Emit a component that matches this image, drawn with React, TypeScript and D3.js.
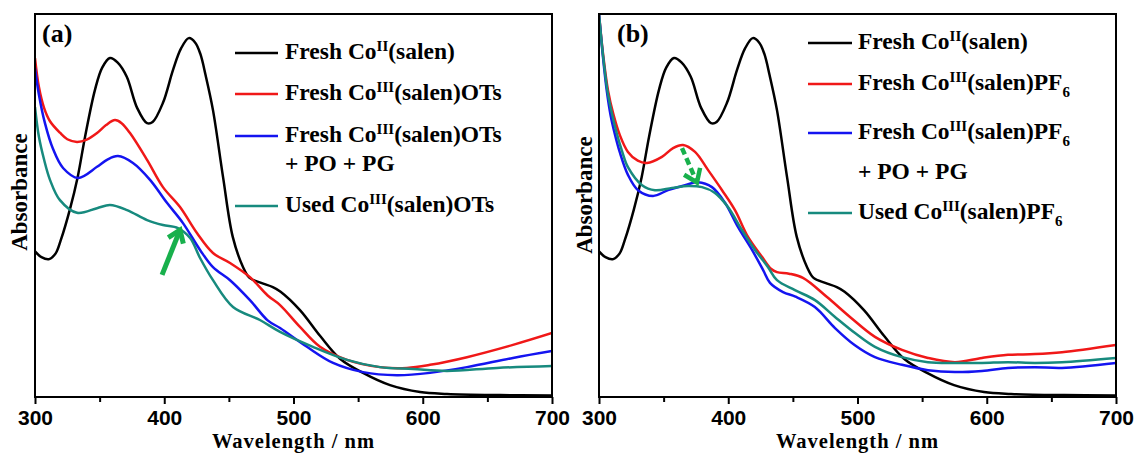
import React, { useEffect, useRef } from "react";
import * as d3 from "d3";

type Pt = [number, number];

// x axis
const wavelengthTicks = [300, 350, 400, 450, 500, 550, 600, 650, 700];
const labelledTicks = [300, 400, 500, 600, 700];

// spectra (wavelength nm, absorbance a.u.)
const freshCoII: Pt[] = [
  [300, 0.38], [305, 0.365], [311, 0.36], [316, 0.375], [320, 0.41], [327, 0.49], [333, 0.574],
  [338.7, 0.679], [346.4, 0.802], [352, 0.86], [358, 0.885], [364, 0.873], [371, 0.836], [379, 0.755],
  [386.7, 0.715], [391, 0.718], [399, 0.768], [406.8, 0.854], [413, 0.91], [419, 0.937], [424, 0.925],
  [428, 0.895], [432, 0.84], [437.7, 0.749], [445.5, 0.574], [453, 0.418], [461, 0.339], [466, 0.311],
  [475, 0.298], [484, 0.287], [490, 0.275], [505, 0.227], [520.5, 0.16], [536, 0.1], [553.8, 0.063],
  [574.7, 0.031], [597.9, 0.013], [618.8, 0.008], [659.8, 0.005], [700, 0.004],
];

const freshOTs: Pt[] = [
  [300, 0.885], [303, 0.81], [307, 0.755], [311.6, 0.72], [319.3, 0.69], [325, 0.673],
  [332.5, 0.666], [340, 0.672], [348, 0.689], [355, 0.71], [361.9, 0.723], [367, 0.715], [373.5, 0.689],
  [386.7, 0.619], [399, 0.548], [412.2, 0.496], [425.3, 0.428], [437.7, 0.376], [450.9, 0.35],
  [466.3, 0.313], [480, 0.265], [489.6, 0.24], [505, 0.183], [520.5, 0.131], [541.4, 0.097],
  [566.9, 0.078], [587.8, 0.076], [605.6, 0.084], [634.2, 0.104], [669.8, 0.136], [700, 0.167],
];

const freshOTsPOPG: Pt[] = [
  [300, 0.859], [303, 0.79], [307.7, 0.715], [313.9, 0.648], [321.7, 0.598], [333.3, 0.572],
  [348, 0.601], [356, 0.62], [364.2, 0.629], [375.8, 0.611], [389, 0.567], [402.1, 0.507],
  [414.5, 0.454], [427.7, 0.384], [437.7, 0.339], [450.9, 0.305], [466.3, 0.253], [480, 0.2],
  [489.6, 0.18], [510.4, 0.131], [530.6, 0.089], [553.8, 0.065], [580, 0.057], [605.6, 0.063],
  [634.2, 0.078], [669.8, 0.102], [700, 0.12],
];

const usedOTs: Pt[] = [
  [300, 0.757], [303, 0.68], [307, 0.62], [311.6, 0.567], [319.3, 0.514], [332.5, 0.481],
  [348, 0.493], [358, 0.501], [371.2, 0.488], [386.7, 0.462], [399, 0.449], [410.6, 0.441],
  [420, 0.415], [427.7, 0.363], [437.7, 0.305], [453.2, 0.235], [474, 0.201], [489.6, 0.17],
  [515, 0.131], [541.4, 0.097], [566.9, 0.078], [592.5, 0.073], [618.8, 0.068], [657.4, 0.076],
  [700, 0.081],
];

const freshPF6: Pt[] = [
  [300, 1.0], [303, 0.9], [307, 0.8], [311, 0.74], [316, 0.685], [322.4, 0.64], [330, 0.617],
  [337.1, 0.611], [348.7, 0.627], [357.3, 0.65], [365, 0.658], [374.3, 0.64], [384.3, 0.593],
  [395.2, 0.54], [405.2, 0.488], [415.3, 0.418], [426.1, 0.366], [433, 0.335], [437.7, 0.326],
  [447, 0.322], [457.8, 0.311], [476.4, 0.261], [494.2, 0.209], [513.5, 0.157], [534.4, 0.123],
  [554.5, 0.102], [575.4, 0.091], [596.3, 0.102], [616.4, 0.11], [637.3, 0.112], [658.2, 0.117],
  [700, 0.136],
];

const freshPF6POPG: Pt[] = [
  [300, 1.0], [303, 0.89], [306, 0.8], [309, 0.735], [312, 0.69], [316, 0.64], [322.4, 0.58],
  [330.2, 0.54], [341.8, 0.525], [353.4, 0.54], [366.5, 0.553], [376.6, 0.561], [387.4, 0.548],
  [397.5, 0.507], [407.5, 0.444], [418.4, 0.384], [426.9, 0.332], [432.3, 0.298], [442.4, 0.274],
  [452, 0.262], [467, 0.235], [482.6, 0.18], [498, 0.135], [513.5, 0.104], [534.4, 0.084],
  [554.5, 0.07], [575.4, 0.065], [596.3, 0.068], [616.4, 0.076], [637.3, 0.078], [658.2, 0.076],
  [700, 0.089],
];

const usedPF6: Pt[] = [
  [300, 1.0], [303, 0.895], [306.5, 0.8], [310, 0.74], [314, 0.685], [318, 0.64], [322.4, 0.6],
  [333.3, 0.553], [343.3, 0.54], [356.5, 0.546], [368.9, 0.551], [379.7, 0.548], [389.7, 0.533],
  [399.8, 0.496], [410.6, 0.436], [420.7, 0.384], [430.8, 0.339], [437.7, 0.305], [451.6, 0.279],
  [467.1, 0.253], [482.6, 0.209], [498.1, 0.167], [513.5, 0.131], [534.4, 0.104], [554.5, 0.091],
  [575.4, 0.089], [596.3, 0.089], [616.4, 0.091], [637.3, 0.089], [658.2, 0.091], [700, 0.102],
];

// green arrows (tail, tip)
const arrowA: Pt[] = [[398.3, 0.319], [412.2, 0.436]];
const arrowB: Pt[] = [[364.2, 0.65], [375.8, 0.56]];

type Part = { t: string; sup?: boolean; sub?: boolean };

const legendA: { color: string | null; parts: Part[] }[] = [
  { color: "#000000", parts: [{ t: "Fresh Co" }, { t: "II", sup: true }, { t: "(salen)" }] },
  { color: "#f01818", parts: [{ t: "Fresh Co" }, { t: "III", sup: true }, { t: "(salen)OTs" }] },
  { color: "#1414f0", parts: [{ t: "Fresh Co" }, { t: "III", sup: true }, { t: "(salen)OTs" }] },
  { color: null, parts: [{ t: "+ PO + PG" }] },
  { color: "#178a7e", parts: [{ t: "Used Co" }, { t: "III", sup: true }, { t: "(salen)OTs" }] },
];

const legendB: { color: string | null; parts: Part[] }[] = [
  { color: "#000000", parts: [{ t: "Fresh Co" }, { t: "II", sup: true }, { t: "(salen)" }] },
  { color: "#f01818", parts: [{ t: "Fresh Co" }, { t: "III", sup: true }, { t: "(salen)PF" }, { t: "6", sub: true }] },
  { color: "#1414f0", parts: [{ t: "Fresh Co" }, { t: "III", sup: true }, { t: "(salen)PF" }, { t: "6", sub: true }] },
  { color: null, parts: [{ t: "+ PO + PG" }] },
  { color: "#178a7e", parts: [{ t: "Used Co" }, { t: "III", sup: true }, { t: "(salen)PF" }, { t: "6", sub: true }] },
];

const SERIF = "'Liberation Serif', 'Times New Roman', serif";
const SANS = "'Liberation Sans', Arial, sans-serif";
const GREEN = "#18b04c";

const panels = [
  {
    id: "a", left: 35, right: 552, top: 14, bottom: 397, tag: "(a)", tagX: 42, tagY: 42,
    yLabelX: 27, yLabelY: 192,
    series: [freshCoII, freshOTs, freshOTsPOPG, usedOTs], legend: legendA,
    legendX: [235, 278, 285], legendY: [59, 100, 142, 171, 212],
    arrow: arrowA, dashed: false,
  },
  {
    id: "b", left: 599, right: 1116, top: 14, bottom: 397, tag: "(b)", tagX: 617, tagY: 42,
    yLabelX: 592, yLabelY: 195,
    series: [freshCoII, freshPF6, freshPF6POPG, usedPF6], legend: legendB,
    legendX: [808, 852, 858], legendY: [49, 90, 139, 179, 219],
    arrow: arrowB, dashed: true,
  },
];

const Panel = ({ cfg }: { cfg: any }) => {
  const ref = useRef<SVGGElement>(null);

  useEffect(() => {
    const g = d3.select(ref.current);
    g.selectAll("*").remove();

    const x = d3.scaleLinear().domain([300, 700]).range([cfg.left, cfg.right]);
    const y = d3.scaleLinear().domain([0, 1]).range([cfg.bottom, cfg.top]);

    const clipId = "clip-" + cfg.id;
    g.append("clipPath").attr("id", clipId).append("rect")
      .attr("x", cfg.left).attr("y", cfg.top)
      .attr("width", cfg.right - cfg.left).attr("height", cfg.bottom - cfg.top);

    const line = d3.line<Pt>()
      .x(d => x(d[0]))
      .y(d => y(d[1]))
      .curve(d3.curveCatmullRom.alpha(0.5));

    const colors = cfg.legend.filter((r: any) => r.color).map((r: any) => r.color);
    cfg.series.forEach((data: Pt[], i: number) => {
      g.append("path")
        .datum(data)
        .attr("clip-path", `url(#${clipId})`)
        .attr("fill", "none")
        .attr("stroke", colors[i])
        .attr("stroke-width", 2.5)
        .attr("d", line);
    });

    // bottom axis
    const axis = g.append("g")
      .attr("transform", `translate(0,${cfg.bottom})`)
      .call(d3.axisBottom(x)
        .tickValues(wavelengthTicks)
        .tickSize(7)
        .tickFormat(d => (labelledTicks.includes(+d) ? String(d) : "")));
    axis.select(".domain").remove();
    axis.attr("font-family", null).attr("font-size", null);
    axis.selectAll<SVGLineElement, number>(".tick line")
      .attr("stroke", "#000")
      .attr("stroke-width", 2)
      .attr("y2", d => (labelledTicks.includes(d) ? 7 : 5));
    axis.selectAll(".tick text")
      .attr("y", 28)
      .attr("dy", null)
      .attr("fill", "#000")
      .attr("font-family", SANS)
      .attr("font-size", 21)
      .attr("font-weight", "bold");

    // frame
    g.append("rect")
      .attr("x", cfg.left).attr("y", cfg.top)
      .attr("width", cfg.right - cfg.left).attr("height", cfg.bottom - cfg.top)
      .attr("fill", "none").attr("stroke", "#000").attr("stroke-width", 2);

    // axis titles
    g.append("text")
      .attr("x", (cfg.left + cfg.right) / 2).attr("y", 448)
      .attr("text-anchor", "middle")
      .attr("font-family", SERIF).attr("font-size", 20.5).attr("font-weight", "bold")
      .attr("letter-spacing", 1)
      .text("Wavelength / nm");
    g.append("text")
      .attr("transform", `translate(${cfg.yLabelX},${cfg.yLabelY}) rotate(-90)`)
      .attr("text-anchor", "middle")
      .attr("font-family", SERIF).attr("font-size", 23).attr("font-weight", "bold")
      .text("Absorbance");

    g.append("text")
      .attr("x", cfg.tagX).attr("y", cfg.tagY)
      .attr("font-family", SERIF).attr("font-size", 26).attr("font-weight", "bold")
      .text(cfg.tag);

    // legend
    const [lx1, lx2, tx] = cfg.legendX;
    cfg.legend.forEach((row: any, i: number) => {
      const by = cfg.legendY[i];
      if (row.color) {
        g.append("line")
          .attr("x1", lx1).attr("x2", lx2).attr("y1", by - 6).attr("y2", by - 6)
          .attr("stroke", row.color).attr("stroke-width", 2.5);
      }
      const t = g.append("text")
        .attr("x", tx).attr("y", by)
        .attr("font-family", SERIF).attr("font-size", 23.5).attr("font-weight", "bold");
      let shift = 0;
      row.parts.forEach((p: Part) => {
        const target = p.sup ? -8 : p.sub ? 7 : 0;
        t.append("tspan")
          .attr("dy", target - shift)
          .attr("font-size", p.sup || p.sub ? 15 : null)
          .text(p.t);
        shift = target;
      });
    });

    // green arrow
    const [p0, p1] = cfg.arrow.map((d: Pt) => [x(d[0]), y(d[1])]);
    const ang = Math.atan2(p1[1] - p0[1], p1[0] - p0[0]);
    const wing = cfg.dashed ? 15 : 14, spread = 0.62;
    const w1 = [p1[0] - wing * Math.cos(ang - spread), p1[1] - wing * Math.sin(ang - spread)];
    const w2 = [p1[0] - wing * Math.cos(ang + spread), p1[1] - wing * Math.sin(ang + spread)];
    g.append("line")
      .attr("x1", p0[0]).attr("y1", p0[1])
      .attr("x2", p1[0] - 3 * Math.cos(ang)).attr("y2", p1[1] - 3 * Math.sin(ang))
      .attr("stroke", GREEN).attr("stroke-width", cfg.dashed ? 4.5 : 5)
      .attr("stroke-dasharray", cfg.dashed ? "7,4" : null);
    g.append("path")
      .attr("d", `M${w1[0]},${w1[1]}L${p1[0]},${p1[1]}L${w2[0]},${w2[1]}`)
      .attr("fill", "none").attr("stroke", GREEN).attr("stroke-width", cfg.dashed ? 4.5 : 5)
      .attr("stroke-linejoin", "miter");
  }, [cfg]);

  return <g ref={ref} />;
};

export default function App() {
  return (
    <svg width={1137} height={453} style={{ position: "absolute", left: 0, top: 0, background: "#fff" }}>
      {panels.map(p => <Panel key={p.id} cfg={p} />)}
    </svg>
  );
}
